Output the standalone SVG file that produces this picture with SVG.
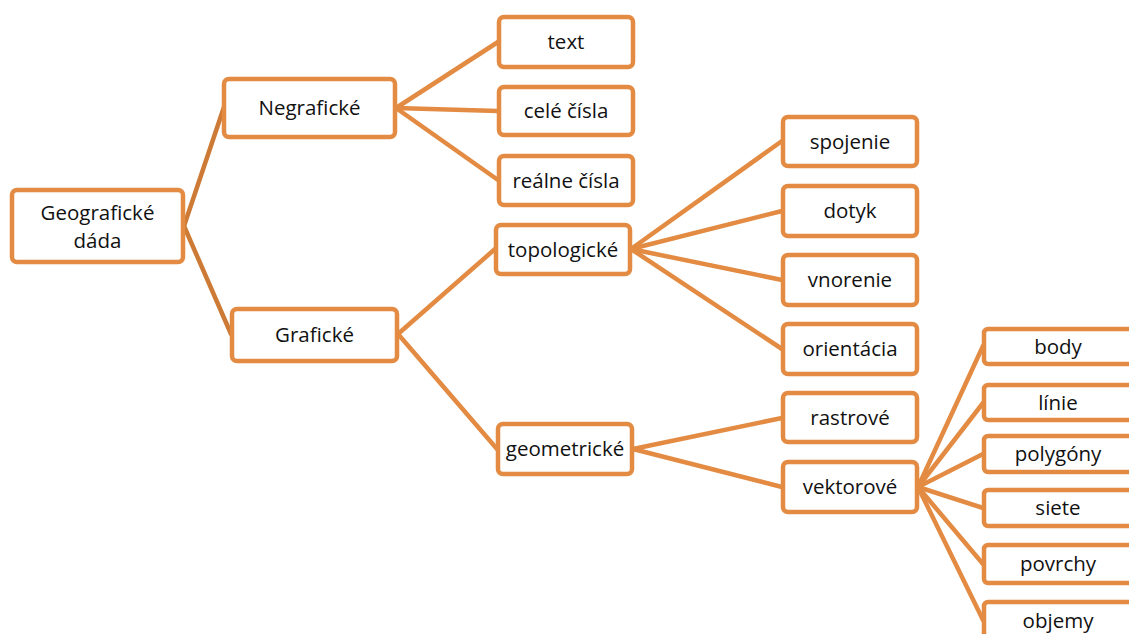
<svg xmlns="http://www.w3.org/2000/svg" width="1129" height="634" viewBox="0 0 1129 634">
<style>
.n rect{fill:#fff;stroke:#E38B42;stroke-width:4.5}
.n text{font-family:"Open Sans","Liberation Sans",sans-serif;font-size:20.5px;fill:#111;text-anchor:middle;dominant-baseline:central}
.c line{stroke:#E38B42;stroke-width:4.5;stroke-linecap:round}
.c line.d{stroke:#CC7A35}
</style>
<rect width="1129" height="634" fill="#fff"/>
<g class="c">
<line class="d" x1="184" y1="226" x2="224" y2="107"/>
<line class="d" x1="184" y1="226" x2="231" y2="334"/>
<line x1="396" y1="108" x2="498" y2="42"/>
<line x1="396" y1="108" x2="498" y2="111"/>
<line x1="396" y1="108" x2="498" y2="180"/>
<line x1="398" y1="334" x2="495" y2="249"/>
<line x1="398" y1="334" x2="497" y2="449"/>
<line x1="631" y1="249" x2="782" y2="141"/>
<line x1="631" y1="249" x2="782" y2="211"/>
<line x1="631" y1="249" x2="782" y2="280"/>
<line x1="631" y1="249" x2="782" y2="349"/>
<line x1="633" y1="449" x2="782" y2="418"/>
<line x1="633" y1="449" x2="782" y2="487"/>
<line x1="918" y1="487" x2="983" y2="346"/>
<line x1="918" y1="487" x2="983" y2="403"/>
<line x1="918" y1="487" x2="983" y2="454"/>
<line x1="918" y1="487" x2="983" y2="508"/>
<line x1="918" y1="487" x2="983" y2="564"/>
<line x1="918" y1="487" x2="983" y2="620"/>
</g>
<g id="geograficke" class="n"><rect x="12" y="190" width="171" height="72" rx="5"/><text x="97.5" y="212">Geografické</text><text x="97.5" y="240">dáda</text></g>
<g id="negraficke" class="n"><rect x="224" y="79" width="171" height="58" rx="5"/><text x="309.5" y="107">Negrafické</text></g>
<g id="graficke" class="n"><rect x="232" y="309" width="165" height="52" rx="5"/><text x="314.5" y="334">Grafické</text></g>
<g id="text" class="n"><rect x="499" y="17" width="134" height="50" rx="5"/><text x="566" y="41">text</text></g>
<g id="cele" class="n"><rect x="499" y="87" width="134" height="48" rx="5"/><text x="566" y="110">celé čísla</text></g>
<g id="realne" class="n"><rect x="499" y="156" width="134" height="49" rx="5"/><text x="566" y="179.5">reálne čísla</text></g>
<g id="topologicke" class="n"><rect x="496" y="225" width="134" height="49" rx="5"/><text x="563" y="248.5">topologické</text></g>
<g id="geometricke" class="n"><rect x="498" y="424" width="134" height="50" rx="5"/><text x="565" y="448">geometrické</text></g>
<g id="spojenie" class="n"><rect x="783" y="117" width="134" height="49" rx="5"/><text x="850" y="140.5">spojenie</text></g>
<g id="dotyk" class="n"><rect x="783" y="186" width="134" height="50" rx="5"/><text x="850" y="210">dotyk</text></g>
<g id="vnorenie" class="n"><rect x="783" y="255" width="134" height="50" rx="5"/><text x="850" y="279">vnorenie</text></g>
<g id="orientacia" class="n"><rect x="783" y="324" width="134" height="50" rx="5"/><text x="850" y="348">orientácia</text></g>
<g id="rastrove" class="n"><rect x="783" y="393" width="134" height="49" rx="5"/><text x="850" y="416.5">rastrové</text></g>
<g id="vektorove" class="n"><rect x="783" y="462" width="134" height="50" rx="5"/><text x="850" y="486">vektorové</text></g>
<g id="body" class="n"><rect x="984" y="329" width="150" height="35" rx="4"/><text x="1058" y="345.5">body</text></g>
<g id="linie" class="n"><rect x="984" y="385" width="150" height="35" rx="4"/><text x="1058" y="401.5">línie</text></g>
<g id="polygony" class="n"><rect x="984" y="436" width="150" height="36" rx="4"/><text x="1058" y="453">polygóny</text></g>
<g id="siete" class="n"><rect x="984" y="490" width="150" height="36" rx="4"/><text x="1058" y="507">siete</text></g>
<g id="povrchy" class="n"><rect x="984" y="545" width="150" height="38" rx="4"/><text x="1058" y="563">povrchy</text></g>
<g id="objemy" class="n"><rect x="984" y="602" width="150" height="40" rx="4"/><text x="1058" y="620">objemy</text></g>
</svg>
